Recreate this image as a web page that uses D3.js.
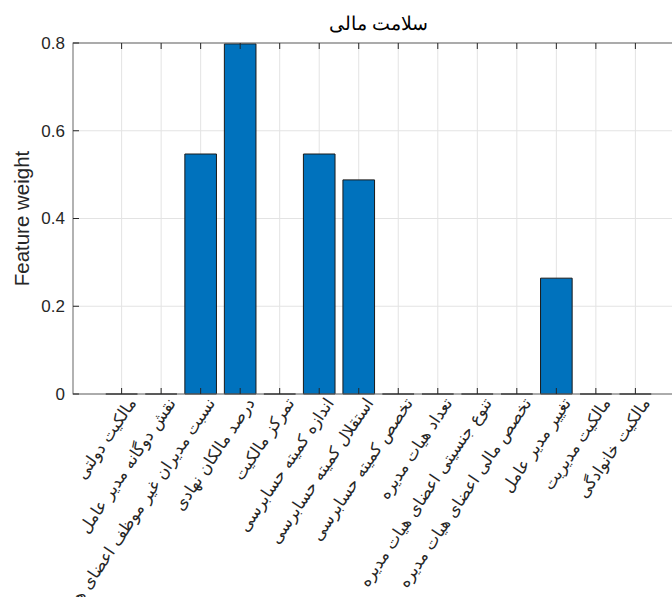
<!DOCTYPE html>
<html lang="fa">
<head>
<meta charset="UTF-8">
<title>سلامت مالی</title>
<script src="https://cdn.jsdelivr.net/npm/d3@7"></script>
<style>
  body { margin: 0; background: #fff; }
  text { font-family: "Liberation Sans", Arial, sans-serif; }
  .xlab text { font-family: "DejaVu Sans", sans-serif; }
</style>
</head>
<body>
<div id="chart"></div>
<script>
// chart values
const categories = [
  "مالکیت دولتی",
  "نقش دوگانه مدیر عامل",
  "نسبت مدیران غیر موظف اعضای هیات مدیره",
  "درصد مالکان نهادی",
  "تمرکز مالکیت",
  "اندازه کمیته حسابرسی",
  "استقلال کمیته حسابرسی",
  "تخصص کمیته حسابرسی",
  "تعداد هیات مدیره",
  "تنوع جنسیتی اعضای هیات مدیره",
  "تخصص مالی اعضای هیات مدیره",
  "تغییر مدیر عامل",
  "مالکیت مدیریت",
  "مالکیت خانوادگی"
];
const weights = [0, 0, 0.547, 0.798, 0, 0.547, 0.488, 0, 0, 0, 0, 0.264, 0, 0];
const yTicks = [0, 0.2, 0.4, 0.6, 0.8];
const titleText = "سلامت مالی";
const yLabel = "Feature weight";

const width = 672, height = 597;
const mLeft = 73, mTop = 43, mBottom = 394, mRight = 684;

const svg = d3.select("#chart").append("svg")
    .attr("width", width)
    .attr("height", height);

const idx = d3.range(1, categories.length + 1);
const x = d3.scaleLinear().domain([-0.23, categories.length + 1.23]).range([mLeft, mRight]);
const y = d3.scaleLinear().domain([0, 0.8]).range([mBottom, mTop]);
const barW = (x(1) - x(0)) * 0.8;

// grid
svg.append("g").selectAll("line")
    .data(idx).join("line")
    .attr("x1", d => x(d)).attr("x2", d => x(d))
    .attr("y1", mTop).attr("y2", mBottom)
    .attr("stroke", "#e3e3e3").attr("stroke-width", 1);
svg.append("g").selectAll("line")
    .data(yTicks).join("line")
    .attr("x1", mLeft).attr("x2", mRight)
    .attr("y1", d => y(d)).attr("y2", d => y(d))
    .attr("stroke", "#e3e3e3").attr("stroke-width", 1);

// bars (paths so zero-height bars still show their edge)
svg.append("g").selectAll("path")
    .data(weights).join("path")
    .attr("d", (d, i) => {
        const x0 = x(i + 1) - barW / 2, x1 = x(i + 1) + barW / 2;
        return `M${x0},${y(0)}V${y(d)}H${x1}V${y(0)}Z`;
    })
    .attr("fill", "#0072BD")
    .attr("stroke", "#1a1a1a")
    .attr("stroke-width", 1);

// axes box
svg.append("rect")
    .attr("x", mLeft).attr("y", mTop)
    .attr("width", mRight - mLeft).attr("height", mBottom - mTop)
    .attr("fill", "none").attr("stroke", "#666").attr("stroke-width", 1);

// tick marks
svg.append("g").selectAll("line")
    .data(idx).join("line")
    .attr("x1", d => x(d)).attr("x2", d => x(d))
    .attr("y1", mBottom).attr("y2", mBottom - 6)
    .attr("stroke", "#262626");
svg.append("g").selectAll("line")
    .data(idx).join("line")
    .attr("x1", d => x(d)).attr("x2", d => x(d))
    .attr("y1", mTop).attr("y2", mTop + 6)
    .attr("stroke", "#262626");
svg.append("g").selectAll("line")
    .data(yTicks).join("line")
    .attr("x1", mLeft).attr("x2", mLeft + 6)
    .attr("y1", d => y(d)).attr("y2", d => y(d))
    .attr("stroke", "#262626");

// y tick labels
svg.append("g").selectAll("text")
    .data(yTicks).join("text")
    .attr("x", mLeft - 8)
    .attr("y", d => y(d))
    .attr("dy", "0.35em")
    .attr("text-anchor", "end")
    .attr("font-size", 17)
    .attr("fill", "#262626")
    .text(d => d === 0 ? "0" : d3.format(".1f")(d));

// x tick labels, rotated
svg.append("g").attr("class", "xlab").selectAll("text")
    .data(categories).join("text")
    .attr("transform", (d, i) => `translate(${x(i + 1) + 5},${mBottom + 2}) rotate(-56)`)
    .attr("text-anchor", "end")
    .attr("dy", "0.75em")
    .attr("font-size", 16.5)
    .attr("fill", "#262626")
    .text(d => d);

// title
svg.append("text")
    .attr("x", (mLeft + mRight) / 2)
    .attr("y", 30)
    .attr("text-anchor", "middle")
    .attr("font-family", "DejaVu Sans, sans-serif")
    .attr("font-size", 18.5)
    .attr("fill", "#000")
    .text(titleText);

// y label
svg.append("text")
    .attr("transform", `translate(29,${(mTop + mBottom) / 2}) rotate(-90)`)
    .attr("text-anchor", "middle")
    .attr("font-size", 20.5)
    .attr("fill", "#262626")
    .text(yLabel);
</script>
</body>
</html>
